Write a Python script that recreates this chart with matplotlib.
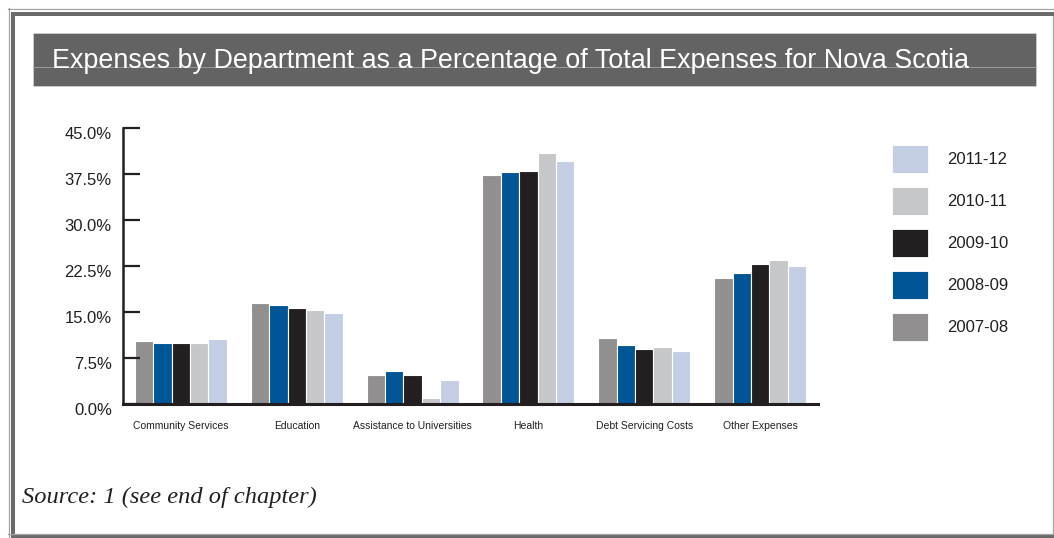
import matplotlib
matplotlib.use("Agg")
import matplotlib.pyplot as plt
from matplotlib.patches import Rectangle
from matplotlib.lines import Line2D
from matplotlib.transforms import ScaledTranslation
import numpy as np

categories = ["Community Services", "Education", "Assistance to Universities",
              "Health", "Debt Servicing Costs", "Other Expenses"]
years = ["2007-08", "2008-09", "2009-10", "2010-11", "2011-12"]
v2007_08 = [10.2, 16.5, 4.8, 37.4, 10.8, 20.6]
v2008_09 = [9.9, 16.1, 5.3, 37.8, 9.7, 21.4]
v2009_10 = [9.9, 15.7, 4.8, 38.0, 9.0, 22.8]
v2010_11 = [9.9, 15.3, 1.0, 41.0, 9.3, 23.5]
v2011_12 = [10.6, 14.9, 3.9, 39.7, 8.7, 22.5]
yticks = [0.0, 7.5, 15.0, 22.5, 30.0, 37.5, 45.0]
ytick_labels = ["0.0%", "7.5%", "15.0%", "22.5%", "30.0%", "37.5%", "45.0%"]
title = "Expenses by Department as a Percentage of Total Expenses for Nova Scotia"
source = "Source: 1 (see end of chapter)"

series = [v2007_08, v2008_09, v2009_10, v2010_11, v2011_12]
colors = ["#918F90", "#005596", "#231F20", "#C6C7C8", "#C3CEE5"]

W, H = 1054, 538
fig = plt.figure(figsize=(W / 100, H / 100), dpi=100)
plt.rcParams['font.family'] = ['Liberation Sans', 'DejaVu Sans']

def fx(x):
    return x / W

def fy(y):
    return 1 - y / H

# frame
light = "#a3a3a3"
dark = "#6a6a6a"
for (x0, y0, x1, y1) in [(8, 8.5, 1054, 8.5), (8.5, 8, 8.5, 538),
                         (1052.5, 16, 1052.5, 534), (8, 533.5, 1053, 533.5)]:
    fig.add_artist(Line2D([fx(x0), fx(x1)], [fy(y0), fy(y1)], color=light, lw=0.9,
                          transform=fig.transFigure))
for (x0, y0, w, h) in [(11, 12, 1043, 3.5), (11, 12, 4, 526), (11, 535, 1043, 3)]:
    fig.add_artist(Rectangle((fx(x0), fy(y0 + h)), w / W, h / H, color=dark, lw=0,
                             transform=fig.transFigure))

# title bar
fig.add_artist(Rectangle((fx(33), fy(86)), (1036 - 33) / W, (86 - 33) / H,
                         facecolor="#636363", edgecolor="#cfcfcf", lw=0.6,
                         transform=fig.transFigure))
fig.add_artist(Line2D([fx(33), fx(1036)], [fy(67), fy(67)], color="#9a9a9a", lw=0.7,
                      transform=fig.transFigure))
fig.text(fx(52), fy(67.5), title, color="white", fontsize=19.4, ha="left", va="baseline")

# axes
ax = fig.add_axes([fx(123), fy(404), (818 - 123) / W, (404 - 128) / H])
n = len(series)
slot = (92 / 116) / n
x = np.arange(len(categories))
for i, (vals, c) in enumerate(zip(series, colors)):
    ax.bar(x + (i - (n - 1) / 2) * slot, vals, width=slot, color=c,
           edgecolor="white", linewidth=0.8)

ax.set_xlim(-0.5, len(categories) - 0.5)
ax.set_ylim(0, 45)
ax.set_yticks(yticks)
ax.set_yticklabels(ytick_labels)
ax.set_xticks(x)
ax.set_xticklabels(categories)
for s in ["top", "right"]:
    ax.spines[s].set_visible(False)
ax.spines["left"].set_linewidth(1.8)
ax.spines["bottom"].set_linewidth(2.2)
ax.spines["left"].set_color("#231F20")
ax.spines["bottom"].set_color("#231F20")
ax.tick_params(axis="y", direction="in", length=12, width=1.6, color="#231F20",
               labelsize=12, labelcolor="#231F20", pad=8)
ax.tick_params(axis="x", length=0, labelsize=7.5, labelcolor="#231F20", pad=12.5)
off = ScaledTranslation(0, -5 / 100, fig.dpi_scale_trans)
for lab in ax.get_yticklabels():
    lab.set_transform(lab.get_transform() + off)

# legend (top to bottom: newest first)
for k, i in enumerate(range(n - 1, -1, -1)):
    cy = 159 + 42 * k
    fig.add_artist(Rectangle((fx(892), fy(cy + 14)), 36 / W, 28 / H,
                             facecolor=colors[i], edgecolor="white", lw=0.6,
                             transform=fig.transFigure))
    fig.text(fx(947), fy(cy), years[i], fontsize=12, color="#231F20",
             ha="left", va="center")

fig.text(fx(22), fy(503), source, fontsize=17.6, style="italic",
         family=["Liberation Serif", "DejaVu Serif"], color="#231F20",
         ha="left", va="baseline")

fig.savefig("out.png", dpi=100)
